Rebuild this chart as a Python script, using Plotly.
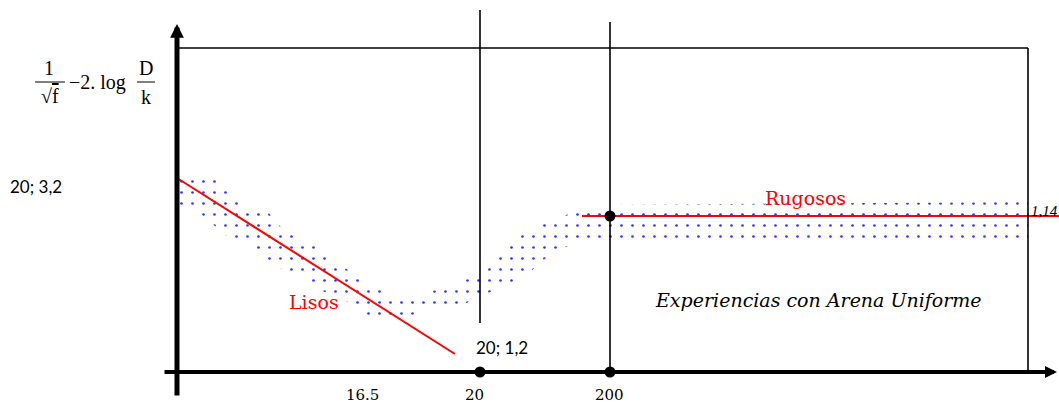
import plotly.graph_objects as go

# ---- schematic data (abstract units: x along Re-axis, y along the friction parameter) ----
band_upper_x = [0.03, 0.35, 0.48, 0.68, 0.91, 1.08, 1.43, 1.68, 1.95, 2.13, 2.48, 2.73, 2.98, 3.23, 3.48, 3.78, 4.03, 4.23, 8.51]
band_upper_y = [1.97, 1.96, 1.84, 1.67, 1.60, 1.40, 1.24, 1.04, 0.87, 0.79, 0.79, 0.86, 0.96, 1.17, 1.40, 1.54, 1.61, 1.67, 1.70]
band_lower_x = [0.03, 0.23, 0.48, 0.78, 0.98, 1.28, 1.38, 1.68, 1.83, 1.95, 2.05, 2.33, 2.53, 2.78, 3.03, 3.33, 3.53, 3.78, 4.03, 8.51]
band_lower_y = [1.67, 1.59, 1.37, 1.24, 1.06, 0.94, 0.84, 0.72, 0.60, 0.47, 0.56, 0.56, 0.64, 0.62, 0.77, 0.85, 1.00, 1.22, 1.29, 1.30]

lisos_x = [0.0, 2.78]
lisos_y = [1.94, 0.18]
rugosos_x = [4.05, 8.82]
rugosos_y = [1.56, 1.56]

key_x = [3.03, 4.33, 4.33]
key_y = [0.0, 0.0, 1.56]

tick_vals = [1.85, 2.97, 4.32]
tick_labels = ["16.5", "20", "200"]

box_right = 8.51
box_top = 3.24
vline_20_x = 3.03
vline_20_y = [0.49, 3.62]
vline_200_x = 4.33
vline_200_y = [0.0, 3.50]

X_RANGE = [-1.77, 8.82]
Y_RANGE = [-0.31, 3.72]

SERIF = "DejaVu Serif"
TIMES = "Liberation Serif"
SANS = "Lato"

fig = go.Figure()

# dotted band (experimental scatter region)
fig.add_trace(go.Scatter(
    x=band_upper_x + band_lower_x[::-1],
    y=band_upper_y + band_lower_y[::-1],
    mode="lines", fill="toself", line=dict(width=0),
    fillcolor="rgba(0,0,0,0)",
    fillpattern=dict(shape=".", size=11, solidity=0.045, fgcolor="rgb(50,50,255)",
                     bgcolor="rgba(0,0,0,0)", fillmode="replace"),
    hoverinfo="skip", showlegend=False))

# red asymptotes
fig.add_trace(go.Scatter(x=lisos_x, y=lisos_y, mode="lines",
                         line=dict(color="red", width=2), showlegend=False))
fig.add_trace(go.Scatter(x=rugosos_x, y=rugosos_y, mode="lines",
                         line=dict(color="red", width=2), showlegend=False))

# box and vertical guide lines
line_style = dict(color="black", width=1.6)
fig.add_shape(type="line", x0=0, x1=box_right, y0=box_top, y1=box_top, line=line_style)
fig.add_shape(type="line", x0=box_right, x1=box_right, y0=0, y1=box_top, line=line_style)
fig.add_shape(type="line", x0=vline_20_x, x1=vline_20_x, y0=vline_20_y[0], y1=vline_20_y[1], line=line_style)
fig.add_shape(type="line", x0=vline_200_x, x1=vline_200_x, y0=vline_200_y[0], y1=vline_200_y[1], line=line_style)

# axes with arrows
fig.add_annotation(x=0, y=3.48, ax=0, ay=-0.25, xref="x", yref="y", axref="x", ayref="y",
                   text="", showarrow=True, arrowhead=2, arrowwidth=5, arrowsize=0.55,
                   arrowcolor="black", standoff=0)
fig.add_annotation(x=8.80, y=0, ax=-0.14, ay=0, xref="x", yref="y", axref="x", ayref="y",
                   text="", showarrow=True, arrowhead=2, arrowwidth=4, arrowsize=0.6,
                   arrowcolor="black", standoff=0)

# key points
fig.add_trace(go.Scatter(x=key_x, y=key_y, mode="markers",
                         marker=dict(color="black", size=11), showlegend=False))

# tick labels
for v, t in zip(tick_vals, tick_labels):
    fig.add_annotation(x=v, y=-0.225, text=t, showarrow=False,
                       font=dict(family=SERIF, size=15, color="black"))

# curve labels
fig.add_annotation(x=6.28, y=1.74, text="Rugosos", showarrow=False,
                   font=dict(family=SERIF, size=19, color="red"))
fig.add_annotation(x=1.37, y=0.70, text="Lisos", showarrow=False,
                   font=dict(family=SERIF, size=19, color="red"))
fig.add_annotation(x=8.515, y=1.61, text="<i>1,14</i>", showarrow=False, xanchor="left",
                   font=dict(family=TIMES, size=15, color="black"))
fig.add_annotation(x=6.41, y=0.72, text="<i>Experiencias con Arena Uniforme</i>", showarrow=False,
                   font=dict(family=SERIF, size=19, color="black"))
fig.add_annotation(x=2.97, y=0.25, text="20; 1,2", showarrow=False, xanchor="left",
                   font=dict(family=SANS, size=17, color="black"))
fig.add_annotation(x=-1.69, y=1.86, text="20; 3,2", showarrow=False, xanchor="left",
                   font=dict(family=SANS, size=17, color="black"))

# y-axis title built as a formula: 1/sqrt(f) - 2.log D/k
fig.add_annotation(x=-1.28, y=3.04, text="1", showarrow=False,
                   font=dict(family=TIMES, size=20, color="black"))
fig.add_shape(type="line", x0=-1.42, x1=-1.12, y0=2.90, y1=2.90, line=dict(color="black", width=1))
fig.add_annotation(x=-1.27, y=2.76, text="\u221a<span style='text-decoration:overline'>f</span>", showarrow=False,
                   font=dict(family=TIMES, size=20, color="black"))
fig.add_annotation(x=-1.10, y=2.90, text="\u22122. log", showarrow=False, xanchor="left",
                   font=dict(family=TIMES, size=20, color="black"))
fig.add_annotation(x=-0.31, y=3.04, text="D", showarrow=False,
                   font=dict(family=TIMES, size=20, color="black"))
fig.add_shape(type="line", x0=-0.40, x1=-0.22, y0=2.90, y1=2.90, line=dict(color="black", width=1))
fig.add_annotation(x=-0.31, y=2.75, text="k", showarrow=False,
                   font=dict(family=TIMES, size=20, color="black"))

fig.update_layout(
    width=1059, height=403,
    margin=dict(l=0, r=0, t=0, b=0),
    paper_bgcolor="white", plot_bgcolor="white",
    xaxis=dict(range=X_RANGE, visible=False, fixedrange=True),
    yaxis=dict(range=Y_RANGE, visible=False, fixedrange=True),
    showlegend=False,
)

fig.write_html("out.html", config={"displayModeBar": False},
               post_script="document.body.style.margin='0';document.body.style.overflow='hidden';")
